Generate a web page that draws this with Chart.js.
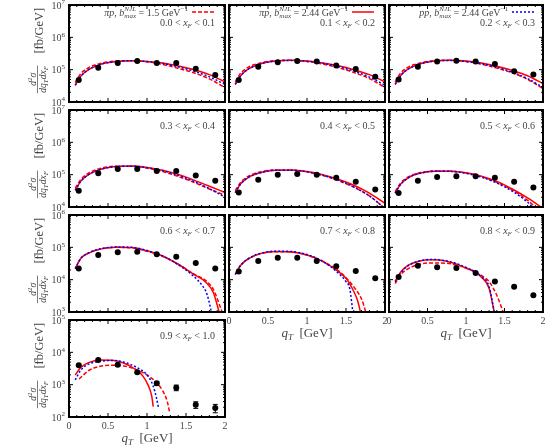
<!DOCTYPE html>
<html>
<head>
<meta charset="utf-8">
<script src="https://cdn.jsdelivr.net/npm/chart.js@4"></script>
<style>
  html, body { margin: 0; padding: 0; background: #fff; }
  #wrap { position: relative; width: 547px; height: 445px; overflow: hidden; background: #fff; }
  #wrap canvas { position: absolute; left: 0; top: 0; }
</style>
</head>
<body>
<div id="wrap"></div>
<script>
// x_F bin edges, one panel per bin
const xfEdges = ['0.0', '0.1', '0.2', '0.3', '0.4', '0.5', '0.6', '0.7', '0.8', '0.9', '1.0']

// measured points, d2sigma/dqT dxF [fb/GeV]
const qtPoints = [0.125, 0.375, 0.625, 0.875, 1.125, 1.375, 1.625, 1.875]
const measured = [
	[4.8e4, 1.15e5, 1.6e5, 1.85e5, 1.6e5, 1.6e5, 1.07e5, 6.8e4],
	[4.8e4, 1.23e5, 1.7e5, 1.85e5, 1.8e5, 1.35e5, 1.05e5, 6.0e4],
	[5.0e4, 1.23e5, 1.8e5, 1.9e5, 1.8e5, 1.5e5, 8.9e4, 7.1e4],
	[3.2e4, 1.1e5, 1.5e5, 1.5e5, 1.3e5, 1.3e5, 9.5e4, 6.5e4],
	[2.8e4, 7.0e4, 1.0e5, 1.05e5, 1.0e5, 8.0e4, 6.0e4, 3.5e4],
	[2.7e4, 6.5e4, 8.5e4, 9.0e4, 9.0e4, 8.0e4, 6.0e4, 4.0e4],
	[2.2e4, 5.8e4, 7.0e4, 7.3e4, 6.1e4, 5.1e4, 3.3e4, 2.2e4],
	[1.8e4, 3.8e4, 4.8e4, 4.8e4, 3.8e4, 2.6e4, 1.85e4, 1.1e4],
	[1.2e4, 2.7e4, 2.4e4, 2.3e4, 1.6e4, 8.7e3, 6.0e3, 3.3e3],
	[4.0e3, 5.8e3, 4.1e3, 2.4e3, 1.1e3, 8.1e2, 2.4e2, 1.9e2]
]
// visible error bars only in the last bin
const lastErr = [3e2, 4e2, 3e2, 2e2, 1.5e2, 1.6e2, 55, 55]

// model curves, [qT, value] per panel
// pi p, bmax = 1.5 GeV^-1 (red dashed)
const piB15 = [
	[[0.08, 4.0e4], [0.15, 7.5e4], [0.25, 1.15e5], [0.4, 1.55e5], [0.6, 1.85e5], [0.8, 1.9e5], [1.0, 1.75e5], [1.2, 1.45e5], [1.4, 1.1e5], [1.6, 8.0e4], [1.8, 5.2e4], [2.0, 2.8e4]],
	[[0.08, 4.2e4], [0.15, 7.8e4], [0.25, 1.2e5], [0.4, 1.6e5], [0.6, 1.9e5], [0.8, 1.95e5], [1.0, 1.8e5], [1.2, 1.5e5], [1.4, 1.15e5], [1.6, 8.2e4], [1.8, 5.3e4], [2.0, 2.8e4]],
	[[0.08, 4.2e4], [0.15, 7.8e4], [0.25, 1.2e5], [0.4, 1.6e5], [0.6, 1.9e5], [0.8, 1.95e5], [1.0, 1.78e5], [1.2, 1.48e5], [1.4, 1.12e5], [1.6, 8.0e4], [1.8, 5.0e4], [2.0, 2.6e4]],
	[[0.08, 3.8e4], [0.15, 7.0e4], [0.25, 1.12e5], [0.4, 1.55e5], [0.6, 1.82e5], [0.8, 1.82e5], [1.0, 1.6e5], [1.2, 1.25e5], [1.4, 8.8e4], [1.6, 5.8e4], [1.8, 3.6e4], [2.0, 2.3e4]],
	[[0.08, 3.2e4], [0.15, 5.8e4], [0.25, 9.0e4], [0.4, 1.22e5], [0.6, 1.4e5], [0.8, 1.38e5], [1.0, 1.22e5], [1.2, 9.5e4], [1.4, 6.6e4], [1.6, 4.1e4], [1.8, 2.2e4], [2.0, 9.0e3]],
	[[0.08, 3.0e4], [0.15, 5.5e4], [0.25, 8.5e4], [0.4, 1.15e5], [0.6, 1.3e5], [0.8, 1.28e5], [1.0, 1.12e5], [1.2, 8.6e4], [1.4, 5.8e4], [1.6, 3.4e4], [1.8, 1.6e4], [1.95, 8.0e3]],
	[[0.08, 2.2e4], [0.15, 4.5e4], [0.25, 6.6e4], [0.4, 8.8e4], [0.6, 1.0e5], [0.8, 9.6e4], [1.0, 7.6e4], [1.2, 5.3e4], [1.4, 3.0e4], [1.6, 1.5e4], [1.75, 9.5e3], [1.85, 5.0e3], [1.97, 9.0e2]],
	[[0.08, 1.45e4], [0.15, 2.8e4], [0.25, 4.4e4], [0.4, 6.3e4], [0.6, 7.3e4], [0.8, 7.2e4], [1.0, 5.8e4], [1.2, 3.7e4], [1.4, 1.9e4], [1.5, 1.15e4], [1.6, 6.0e3], [1.7, 2.5e3], [1.76, 9.0e2]],
	[[0.08, 7.5e3], [0.15, 1.4e4], [0.25, 2.2e4], [0.4, 3.0e4], [0.55, 3.3e4], [0.75, 3.2e4], [1.0, 2.3e4], [1.2, 1.35e4], [1.3, 8.7e3], [1.4, 3.3e3], [1.49, 9.0e2]],
	[[0.13, 1.5e3], [0.25, 2.7e3], [0.4, 3.7e3], [0.55, 4.0e3], [0.7, 3.8e3], [0.85, 3.0e3], [1.0, 2.0e3], [1.1, 1.3e3], [1.2, 6.5e2], [1.26, 3.0e2], [1.29, 1.4e2]]
]
// pi p, bmax = 2.44 GeV^-1 (red solid)
const piB244 = [
	[[0.08, 3.3e4], [0.15, 6.2e4], [0.25, 1.0e5], [0.4, 1.45e5], [0.6, 1.78e5], [0.8, 1.88e5], [1.0, 1.8e5], [1.2, 1.6e5], [1.4, 1.3e5], [1.6, 1.0e5], [1.8, 7.0e4], [2.0, 4.2e4]],
	[[0.08, 3.5e4], [0.15, 6.5e4], [0.25, 1.05e5], [0.4, 1.5e5], [0.6, 1.85e5], [0.8, 1.95e5], [1.0, 1.85e5], [1.2, 1.62e5], [1.4, 1.32e5], [1.6, 1.0e5], [1.8, 7.0e4], [2.0, 4.2e4]],
	[[0.08, 3.5e4], [0.15, 6.5e4], [0.25, 1.05e5], [0.4, 1.5e5], [0.6, 1.85e5], [0.8, 1.95e5], [1.0, 1.85e5], [1.2, 1.6e5], [1.4, 1.28e5], [1.6, 9.5e4], [1.8, 6.5e4], [2.0, 3.7e4]],
	[[0.08, 3.3e4], [0.15, 6.2e4], [0.25, 1.0e5], [0.4, 1.45e5], [0.6, 1.78e5], [0.8, 1.85e5], [1.0, 1.68e5], [1.2, 1.38e5], [1.4, 1.02e5], [1.6, 6.8e4], [1.8, 4.4e4], [2.0, 2.8e4]],
	[[0.08, 2.8e4], [0.15, 5.2e4], [0.25, 8.3e4], [0.4, 1.15e5], [0.6, 1.38e5], [0.8, 1.4e5], [1.0, 1.25e5], [1.2, 1.0e5], [1.4, 7.2e4], [1.6, 4.7e4], [1.8, 2.7e4], [2.0, 1.3e4]],
	[[0.08, 2.7e4], [0.15, 5.0e4], [0.25, 8.0e4], [0.4, 1.1e5], [0.6, 1.28e5], [0.8, 1.28e5], [1.0, 1.14e5], [1.2, 9.0e4], [1.4, 6.2e4], [1.6, 3.6e4], [1.8, 1.9e4], [2.0, 9.0e3]],
	[[0.08, 2.2e4], [0.15, 4.5e4], [0.25, 6.6e4], [0.4, 8.8e4], [0.6, 1.0e5], [0.8, 9.8e4], [1.0, 7.8e4], [1.2, 5.4e4], [1.4, 3.0e4], [1.6, 1.45e4], [1.75, 8.5e3], [1.85, 4.0e3], [1.93, 9.0e2]],
	[[0.08, 1.45e4], [0.15, 2.8e4], [0.25, 4.5e4], [0.4, 6.4e4], [0.6, 7.4e4], [0.8, 7.2e4], [1.0, 5.8e4], [1.2, 3.7e4], [1.4, 1.8e4], [1.5, 1.1e4], [1.6, 4.3e3], [1.65, 2.2e3], [1.69, 9.0e2]],
	[[0.08, 9.0e3], [0.15, 1.7e4], [0.25, 2.8e4], [0.4, 3.8e4], [0.55, 4.1e4], [0.75, 3.7e4], [1.0, 2.3e4], [1.2, 1.2e4], [1.3, 5.4e3], [1.37, 9.0e2]],
	[[0.08, 2.0e3], [0.15, 3.4e3], [0.25, 4.8e3], [0.4, 5.8e3], [0.55, 5.7e3], [0.7, 4.7e3], [0.85, 3.0e3], [0.95, 1.8e3], [1.02, 9.0e2], [1.06, 4.5e2], [1.08, 2.1e2]]
]
// p p, bmax = 2.44 GeV^-1 (blue dotted)
const ppB244 = [
	[[0.08, 3.3e4], [0.15, 6.2e4], [0.25, 1.0e5], [0.4, 1.45e5], [0.6, 1.78e5], [0.8, 1.88e5], [1.0, 1.78e5], [1.2, 1.55e5], [1.4, 1.22e5], [1.6, 9.0e4], [1.8, 6.0e4], [2.0, 3.5e4]],
	[[0.08, 3.5e4], [0.15, 6.5e4], [0.25, 1.05e5], [0.4, 1.5e5], [0.6, 1.85e5], [0.8, 1.93e5], [1.0, 1.82e5], [1.2, 1.58e5], [1.4, 1.25e5], [1.6, 9.0e4], [1.8, 5.9e4], [2.0, 3.3e4]],
	[[0.08, 3.5e4], [0.15, 6.5e4], [0.25, 1.05e5], [0.4, 1.5e5], [0.6, 1.85e5], [0.8, 1.93e5], [1.0, 1.8e5], [1.2, 1.53e5], [1.4, 1.18e5], [1.6, 8.3e4], [1.8, 5.3e4], [2.0, 2.8e4]],
	[[0.08, 3.3e4], [0.15, 6.2e4], [0.25, 1.0e5], [0.4, 1.45e5], [0.6, 1.78e5], [0.8, 1.83e5], [1.0, 1.65e5], [1.2, 1.33e5], [1.4, 9.5e4], [1.6, 6.2e4], [1.8, 3.7e4], [2.0, 2.0e4]],
	[[0.08, 2.8e4], [0.15, 5.2e4], [0.25, 8.3e4], [0.4, 1.15e5], [0.6, 1.38e5], [0.8, 1.38e5], [1.0, 1.22e5], [1.2, 9.6e4], [1.4, 6.8e4], [1.6, 4.2e4], [1.8, 2.2e4], [2.0, 9.0e3]],
	[[0.08, 2.7e4], [0.15, 5.0e4], [0.25, 8.0e4], [0.4, 1.1e5], [0.6, 1.28e5], [0.8, 1.27e5], [1.0, 1.1e5], [1.2, 8.4e4], [1.4, 5.5e4], [1.6, 3.1e4], [1.8, 1.4e4], [1.9, 8.0e3]],
	[[0.08, 2.2e4], [0.15, 4.5e4], [0.25, 6.7e4], [0.4, 9.0e4], [0.6, 1.02e5], [0.8, 1.0e5], [1.0, 8.0e4], [1.2, 5.4e4], [1.4, 2.9e4], [1.55, 1.6e4], [1.7, 7.0e3], [1.77, 3.5e3], [1.83, 9.0e2]],
	[[0.08, 1.45e4], [0.15, 2.8e4], [0.25, 4.5e4], [0.4, 6.5e4], [0.6, 7.6e4], [0.8, 7.4e4], [1.0, 6.0e4], [1.2, 3.7e4], [1.4, 1.6e4], [1.5, 8.7e3], [1.55, 5.0e3], [1.59, 9.0e2]],
	[[0.08, 8.5e3], [0.15, 1.6e4], [0.25, 2.7e4], [0.4, 3.8e4], [0.55, 4.2e4], [0.75, 3.8e4], [1.0, 2.4e4], [1.2, 1.25e4], [1.3, 6.0e3], [1.37, 9.0e2]],
	[[0.08, 1.4e3], [0.15, 2.8e3], [0.25, 4.3e3], [0.4, 5.3e3], [0.55, 5.6e3], [0.7, 5.0e3], [0.85, 3.6e3], [1.0, 2.0e3], [1.08, 9.0e2], [1.12, 4.0e2], [1.15, 1.8e2]]
]

// y range per panel as decades (log10 min, log10 max)
const yDecLo = [4, 4, 4, 4, 4, 4, 3, 3, 3, 2]
const yDecHi = [7, 7, 7, 7, 7, 7, 6, 6, 6, 5]
const xTickVals = [0, 0.5, 1, 1.5, 2]

// legend entries (first row only)
const legendBeam = ['πp', 'πp', 'pp']
const legendBmax = ['1.5', '2.44', '2.44']

const W = 547, H = 445
const colLeft = [69, 229, 389]
const rowTop = [5, 110, 215, 320]
const PW = 156, PH = 97
const TXT = '#444'
const SERIF = '"Liberation Serif", "Times New Roman", serif'
const styles = [
	{ color: '#ff0000', dash: [4, 2] },
	{ color: '#ff0000', dash: [] },
	{ color: '#0000ff', dash: [2, 2] }
]

const fontOf = (size, italic) => (italic ? 'italic ' : '') + size + 'px ' + SERIF

// parts: [text, kind] with kind r / i / sup / sub / stack
function drawRich(ctx, parts, x, y, size, align, dry) {
	const small = Math.round(size * 0.7)
	const items = parts.map(([t, k]) => {
		const sm = k !== 'r' && k !== 'i'
		const it = k === 'i' || k === 'sub' || k === 'stack'
		const font = fontOf(sm ? small : size, it)
		ctx.font = font
		const w = k === 'stack'
			? Math.max(ctx.measureText(t[0]).width, ctx.measureText(t[1]).width)
			: ctx.measureText(t).width
		return { t, k, w, font }
	})
	const total = items.reduce((s, it) => s + it.w, 0)
	if (dry) return total
	let cx = align === 'right' ? x - total : align === 'center' ? x - total / 2 : x
	ctx.textAlign = 'left'
	ctx.textBaseline = 'alphabetic'
	for (const it of items) {
		ctx.font = it.font
		if (it.k === 'stack') {
			ctx.fillText(it.t[0], cx, y - size * 0.42)
			ctx.fillText(it.t[1], cx, y + size * 0.25)
		} else if (it.k === 'sup') ctx.fillText(it.t, cx, y - size * 0.42)
		else if (it.k === 'sub') ctx.fillText(it.t, cx, y + size * 0.25)
		else ctx.fillText(it.t, cx, y)
		cx += it.w
	}
	return total
}

function drawYTitle(ctx, cy) {
	ctx.save()
	ctx.fillStyle = TXT
	ctx.strokeStyle = TXT
	ctx.translate(43, cy)
	ctx.rotate(-Math.PI / 2)
	const num = [['d', 'i'], ['2', 'sup'], ['σ', 'i']]
	const den = [['dq', 'i'], ['T', 'sub'], ['dx', 'i'], ['F', 'sub']]
	const unit = [['[fb/GeV]', 'r']]
	const fs = 9.5
	const fw = Math.max(drawRich(ctx, num, 0, 0, fs, 'left', true), drawRich(ctx, den, 0, 0, fs, 'left', true)) + 1
	const uw = drawRich(ctx, unit, 0, 0, 12.5, 'left', true)
	const u0 = -(fw + 12 + uw) / 2
	drawRich(ctx, num, u0 + fw / 2, -7.5, fs, 'center')
	ctx.lineWidth = 0.7
	ctx.beginPath()
	ctx.moveTo(u0, -5.5)
	ctx.lineTo(u0 + fw, -5.5)
	ctx.stroke()
	drawRich(ctx, den, u0 + fw / 2, 2.5, fs, 'center')
	drawRich(ctx, unit, u0 + fw + 12, 0, 12.5, 'left')
	ctx.restore()
}

function panelPlugin(i, row, col) {
	return {
		id: 'panelDecor',
		beforeDatasetsDraw(chart) {
			if (i !== 9) return
			const { ctx, scales: { x, y } } = chart
			ctx.save()
			ctx.strokeStyle = '#000'
			ctx.lineWidth = 1
			ctx.beginPath()
			qtPoints.forEach((q, k) => {
				const px = x.getPixelForValue(q)
				const hi = y.getPixelForValue(measured[i][k] + lastErr[k])
				const lo = y.getPixelForValue(measured[i][k] - lastErr[k])
				ctx.moveTo(px, lo); ctx.lineTo(px, hi)
				ctx.moveTo(px - 2.5, lo); ctx.lineTo(px + 2.5, lo)
				ctx.moveTo(px - 2.5, hi); ctx.lineTo(px + 2.5, hi)
			})
			ctx.stroke()
			ctx.restore()
		},
		afterDraw(chart) {
			const { ctx, chartArea: a, scales: { x, y } } = chart
			const lo = yDecLo[i], hi = yDecHi[i]
			ctx.save()
			// ticks, inward on all four sides
			ctx.strokeStyle = '#000'
			ctx.lineWidth = 1
			ctx.beginPath()
			for (let k = 0; k <= 20; k++) {
				const px = x.getPixelForValue(k / 10)
				const len = k % 5 === 0 ? 4 : 2
				ctx.moveTo(px, a.bottom); ctx.lineTo(px, a.bottom - len)
				ctx.moveTo(px, a.top); ctx.lineTo(px, a.top + len)
			}
			for (let d = lo; d < hi; d++) {
				for (let m = 1; m < 10; m++) {
					const py = y.getPixelForValue(m * 10 ** d)
					const len = m === 1 ? 4 : 2
					ctx.moveTo(a.left, py); ctx.lineTo(a.left + len, py)
					ctx.moveTo(a.right, py); ctx.lineTo(a.right - len, py)
				}
			}
			ctx.stroke()
			// frame
			ctx.lineWidth = 2
			ctx.strokeRect(a.left, a.top, a.right - a.left, a.bottom - a.top)

			ctx.fillStyle = TXT
			if (col === 0) {
				for (let d = lo; d <= hi; d++) {
					const py = y.getPixelForValue(10 ** d)
					drawRich(ctx, [['10', 'r'], [String(d), 'sup']], a.left - 4, py + 3.5, 10, 'right')
				}
				drawYTitle(ctx, (a.top + a.bottom) / 2 - 3)
			}
			if (i >= 7) {
				ctx.fillStyle = TXT
				xTickVals.forEach(v => {
					drawRich(ctx, [[String(v), 'r']], x.getPixelForValue(v), a.bottom + 12, 10, 'center')
				})
				drawRich(ctx, [['q', 'i'], ['T', 'sub'], ['  [GeV]', 'r']], (a.left + a.right) / 2, a.bottom + 25, 13, 'center')
			}
			// x_F bin label
			const xf = [[xfEdges[i] + ' < ', 'r'], ['x', 'i'], ['F', 'sub'], [' < ' + xfEdges[i + 1], 'r']]
			const xfY = row === 0 ? a.top + 20.5 : a.top + 18.5
			drawRich(ctx, xf, a.left + 146, xfY, 10, 'right')
			// legend (first row)
			if (row === 0) {
				const st = styles[i]
				drawRich(ctx, [[legendBeam[i], 'i'], [', ', 'r'], ['b', 'i'], [['NJL', 'max'], 'stack'],
					[' = ' + legendBmax[i] + ' GeV', 'r'], ['−1', 'sup']], a.left + 119, a.top + 10.5, 10, 'right')
				ctx.strokeStyle = st.color
				ctx.lineWidth = 1.5
				ctx.setLineDash(st.dash)
				ctx.beginPath()
				ctx.moveTo(a.left + 123, a.top + 7)
				ctx.lineTo(a.left + 145, a.top + 7)
				ctx.stroke()
				ctx.setLineDash([])
			}
			ctx.restore()
		}
	}
}

const wrap = document.getElementById('wrap')

function makePanel(i) {
	const col = i < 9 ? i % 3 : 0
	const row = Math.floor(i / 3)
	const left = colLeft[col], top = rowTop[row]
	const canvas = document.createElement('canvas')
	canvas.width = W
	canvas.height = H
	wrap.appendChild(canvas)

	const toXY = arr => arr.map(([x, y]) => ({ x, y }))
	const curve = (arr, st) => ({
		data: toXY(arr[i]),
		showLine: true,
		borderColor: st.color,
		borderDash: st.dash,
		borderWidth: 1.5,
		pointRadius: 0,
		cubicInterpolationMode: 'monotone'
	})

	new Chart(canvas, {
		type: 'scatter',
		data: {
			datasets: [
				{
					data: qtPoints.map((q, k) => ({ x: q, y: measured[i][k] })),
					pointRadius: 3,
					pointBackgroundColor: '#000',
					pointBorderColor: '#000',
					pointBorderWidth: 0,
					showLine: false
				},
				curve(ppB244, styles[2]),
				curve(piB244, styles[1]),
				curve(piB15, styles[0])
			]
		},
		options: {
			responsive: false,
			animation: false,
			devicePixelRatio: 1,
			events: [],
			layout: {
				padding: { left: left, top: top, right: W - left - PW, bottom: H - top - PH }
			},
			scales: {
				x: { type: 'linear', min: 0, max: 2, display: false },
				y: { type: 'logarithmic', min: 10 ** yDecLo[i], max: 10 ** yDecHi[i], display: false }
			},
			plugins: {
				legend: { display: false },
				tooltip: { enabled: false }
			}
		},
		plugins: [panelPlugin(i, row, col)]
	})
}

for (let i = 0; i < 10; i++) makePanel(i)
</script>
</body>
</html>
